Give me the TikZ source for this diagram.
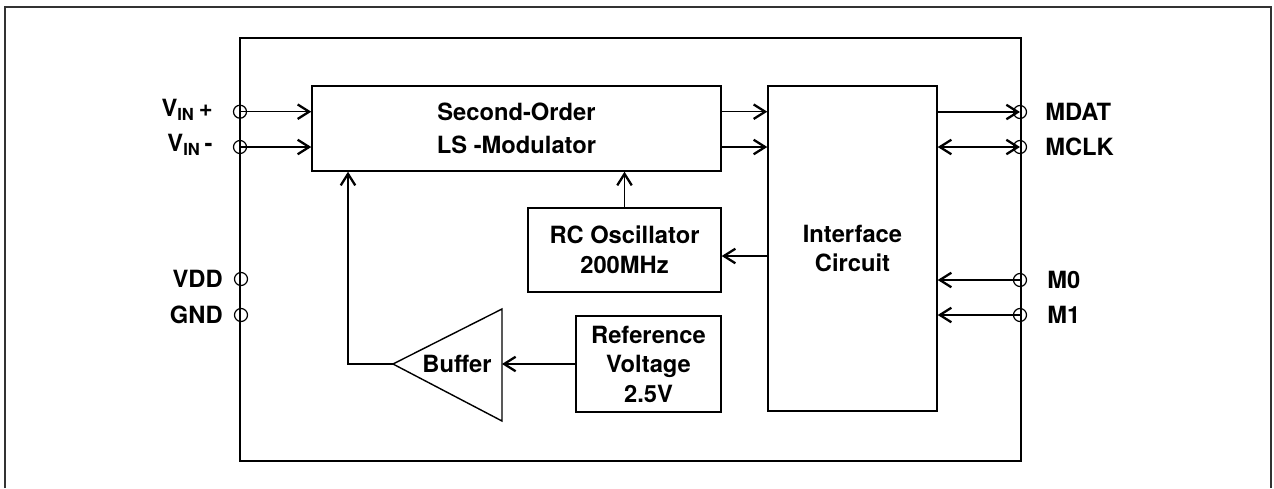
\documentclass[tikz,border=0pt]{standalone}
\usepackage{fontspec}
\setmainfont{TeX Gyre Heros}
\usetikzlibrary{arrows.meta}
\usetikzlibrary{calc}

\tikzset{
  blk/.style={draw, line width=0.8pt, font=\bfseries\fontsize{13.5}{16.8}\selectfont, align=center, inner sep=0pt},
  pinc/.style={draw, circle, line width=0.7pt, minimum size=0.26cm, inner sep=0pt},
  lbl/.style={font=\bfseries\fontsize{13.5}{16}\selectfont, inner sep=0pt},
  wire/.style={line width=0.65pt},
}

\begin{document}
\begin{tikzpicture}[x=0.2mm,y=-0.2mm,>={Straight Barb[length=2.3mm,width=2.9mm,line width=1.3pt]}]
\useasboundingbox (0,0) rectangle (1274,488);
% frames
\draw[line width=1.1pt,black!80] (5,488)--(5,7)--(1271,7)--(1271,488);
\draw[line width=1.6pt] (240,38) rectangle (1021,461);
% blocks
\node[blk,minimum width=8.18cm,minimum height=1.7cm] (mod) at (516.5,128.5) {Second-Order\\[2pt]LS -Modulator};
\node[blk,minimum width=3.38cm,minimum height=6.5cm] (iface) at (852.5,248.5) {Interface\\Circuit};
\node[blk,minimum width=3.86cm,minimum height=1.68cm] (rc) at (624.5,250) {RC Oscillator\\200MHz};
\node[blk,minimum width=2.9cm,minimum height=1.92cm] (vref) at (648.5,364) {Reference\\Voltage\\2.5V};
% buffer
\coordinate (bufa) at (393,364);
\coordinate (bufb) at (502,309);
\coordinate (bufc) at (502,421);
\coordinate (bufin) at (502,364);
\draw[line width=0.8pt] (bufa)--(bufb)--(bufc)--cycle;
\node[lbl] (buf) at (457,364) {Buffer};
% pins left
\node[pinc] (vinp) at (240,111.7) {};
\node[pinc] (vinm) at (240,147) {};
\node[pinc] (vdd) at (241,279) {};
\node[pinc] (gnd) at (241,315) {};
\node[lbl,anchor=east] (vinplbl) at (213,110) {V\textsubscript{IN}\,+};
\node[lbl,anchor=east] (vinmlbl) at (213,145) {V\textsubscript{IN}\,-};
\node[lbl,anchor=east] (vddlbl) at (223,279) {VDD};
\node[lbl,anchor=east] (gndlbl) at (223,315) {GND};
% pins right
\node[pinc] (mdat) at (1020,112) {};
\node[pinc] (mclk) at (1020,147) {};
\node[pinc] (m0) at (1020,280) {};
\node[pinc] (m1) at (1020,315) {};
\node[lbl,anchor=west] (mdatlbl) at (1045,112) {MDAT};
\node[lbl,anchor=west] (mclklbl) at (1045,147) {MCLK};
\node[lbl,anchor=west] (m0lbl) at (1047,280) {M0};
\node[lbl,anchor=west] (m1lbl) at (1047,315) {M1};
% wires
\draw[wire,->] (vinp.center) -- (vinp -| mod.west);
\draw[wire,->] (vinm.center) -- (vinm -| mod.west);
\draw[wire,->] (mod.east |- vinp) -- (iface.west |- vinp);
\draw[wire,->] (mod.east |- vinm) -- (iface.west |- vinm);
\draw[wire,->] (iface.east |- mdat) -- (mdat.center);
\draw[wire,<->] (iface.east |- mclk) -- (mclk.center);
\draw[wire,->] (m0.center) -- (m0 -| iface.east);
\draw[wire,->] (m1.center) -- (m1 -| iface.east);
\draw[wire,->] (rc.north) -- (rc.north |- mod.south);
\coordinate (clk) at (768,256);
\draw[wire,->] (clk) -- (clk -| rc.east);
\draw[wire,->] (vref.west) -- (bufin);
\coordinate (fb) at (348,364);
\draw[wire,->] (bufa) -- (fb) -- (fb |- mod.south);
\end{tikzpicture}
\end{document}
